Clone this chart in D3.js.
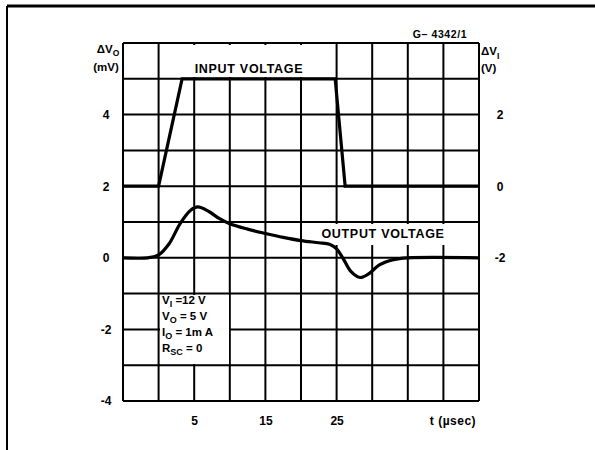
<!DOCTYPE html>
<html>
<head>
<meta charset="utf-8">
<script src="https://cdn.jsdelivr.net/npm/d3@7"></script>
<style>
  body { margin: 0; background: #fff; }
  text { font-family: "Liberation Sans", "DejaVu Sans", sans-serif; font-weight: bold; fill: #000; }
</style>
</head>
<body>
<svg id="chart"></svg>
<script>
const width = 595;
const height = 450;

// data
const leftTicks = [4, 2, 0, -2, -4];
const rightTicks = [2, 0, -2];
const xTicks = [5, 15, 25];

const inputT = [-5, 0, 3.3, 24.8, 26.2, 45];
const inputV = [0, 0, 3, 3, 0, 0];

const outT = [-5, -1.5, 0, 1.5, 3, 4.5, 5.5, 7, 8.5, 10, 12.5, 15, 17.5, 20, 22.5, 24, 25, 26, 27, 28.3, 29.5, 31, 33, 35, 45];
const outV = [0, 0, 0.08, 0.4, 0.95, 1.33, 1.42, 1.3, 1.1, 0.95, 0.8, 0.68, 0.57, 0.48, 0.42, 0.38, 0.25, -0.05, -0.38, -0.55, -0.45, -0.2, -0.05, 0, 0];

const svg = d3.select("#chart").attr("width", width).attr("height", height);

const x = d3.scaleLinear().domain([-5, 45]).range([123, 479]);
const yL = d3.scaleLinear().domain([-4, 6]).range([401, 43]);
const yR = d3.scaleLinear().domain([-6, 4]).range([401, 43]);

const fmt = d => String(d); // plain hyphen minus, as on the drawing

// page frame
svg.append("line").attr("x1", 7).attr("x2", 595).attr("y1", 6).attr("y2", 6)
  .attr("stroke", "#000").attr("stroke-width", 3);
svg.append("line").attr("x1", 7).attr("x2", 7).attr("y1", 6).attr("y2", 450)
  .attr("stroke", "#000").attr("stroke-width", 2);

// grid
const grid = svg.append("g").attr("stroke", "#000").attr("stroke-width", 2);
grid.selectAll(".v").data(d3.range(-5, 46, 5)).join("line")
  .attr("x1", d => x(d)).attr("x2", d => x(d))
  .attr("y1", yL(6)).attr("y2", yL(-4));
grid.selectAll(".h").data(d3.range(-4, 7, 1)).join("line")
  .attr("x1", x(-5)).attr("x2", x(45))
  .attr("y1", d => yL(d)).attr("y2", d => yL(d));

// white patches behind labels inside the grid
svg.append("rect").attr("x", 189).attr("y", 45).attr("width", 144).attr("height", 32).attr("fill", "#fff");
svg.append("rect").attr("x", 314).attr("y", 224).attr("width", 138).attr("height", 21).attr("fill", "#fff");
svg.append("rect").attr("x", 160).attr("y", 295).attr("width", 69).attr("height", 69).attr("fill", "#fff");

// axes (labels only)
const axL = svg.append("g").attr("transform", `translate(${x(-5) - 14},0)`)
  .call(d3.axisLeft(yL).tickValues(leftTicks).tickSize(0).tickFormat(fmt));
const axR = svg.append("g").attr("transform", `translate(${x(45) + 18},0)`)
  .call(d3.axisRight(yR).tickValues(rightTicks).tickSize(0).tickFormat(fmt));
const axB = svg.append("g").attr("transform", `translate(0,${yL(-4) + 12})`)
  .call(d3.axisBottom(x).tickValues(xTicks).tickSize(0).tickFormat(fmt));
[axL, axR, axB].forEach(a => {
  a.select(".domain").remove();
  a.selectAll("text").attr("font-size", 12).attr("font-weight", "bold")
    .attr("font-family", "Liberation Sans, DejaVu Sans, sans-serif");
});
axL.selectAll("text").attr("text-anchor", "middle");
axR.selectAll("text").attr("text-anchor", "middle");

// curves
svg.append("path")
  .datum(inputT.map((t, i) => [t, inputV[i]]))
  .attr("fill", "none").attr("stroke", "#000").attr("stroke-width", 3.2)
  .attr("stroke-linejoin", "miter")
  .attr("d", d3.line().x(d => x(d[0])).y(d => yR(d[1])));

svg.append("path")
  .datum(outT.map((t, i) => [t, outV[i]]))
  .attr("fill", "none").attr("stroke", "#000").attr("stroke-width", 3.2)
  .attr("d", d3.line().curve(d3.curveCatmullRom).x(d => x(d[0])).y(d => yL(d[1])));

// labels
svg.append("text").attr("x", 249).attr("y", 73).attr("text-anchor", "middle")
  .attr("font-size", 12.5).attr("letter-spacing", 0.7).text("INPUT  VOLTAGE");
svg.append("text").attr("x", 383).attr("y", 238).attr("text-anchor", "middle")
  .attr("font-size", 12.5).attr("letter-spacing", 0.7).text("OUTPUT  VOLTAGE");
svg.append("text").attr("x", 440).attr("y", 38).attr("text-anchor", "middle")
  .attr("font-size", 10.5).attr("letter-spacing", 0.6).text("G\u2013 4342/1");
svg.append("text").attr("x", 453).attr("y", 425).attr("text-anchor", "middle")
  .attr("font-size", 12).attr("letter-spacing", 0.5).text("t  (\u00b5sec)");

// left axis title
const tl = svg.append("text").attr("x", 108).attr("y", 53).attr("text-anchor", "middle").attr("font-size", 11.5);
tl.append("tspan").text("\u0394V");
tl.append("tspan").attr("font-size", 8.5).attr("dy", 3).text("O");
svg.append("text").attr("x", 106).attr("y", 71).attr("text-anchor", "middle").attr("font-size", 11.5).text("(mV)");

// right axis title
const tr = svg.append("text").attr("x", 481).attr("y", 55).attr("font-size", 11.5);
tr.append("tspan").text("\u0394V");
tr.append("tspan").attr("font-size", 8.5).attr("dy", 4).text("I");
svg.append("text").attr("x", 481).attr("y", 72).attr("font-size", 11.5).text("(V)");

// conditions box
const conds = [["V", "I", " =12 V"], ["V", "O", " = 5 V"], ["I", "O", " = 1m A"], ["R", "SC", " = 0"]];
conds.forEach((c, i) => {
  const t = svg.append("text").attr("x", 162).attr("y", 304 + i * 16).attr("font-size", 11.5);
  t.append("tspan").text(c[0]);
  t.append("tspan").attr("font-size", 9).attr("dy", 3).text(c[1]);
  t.append("tspan").attr("dy", -3).text(c[2]);
});
</script>
</body>
</html>
